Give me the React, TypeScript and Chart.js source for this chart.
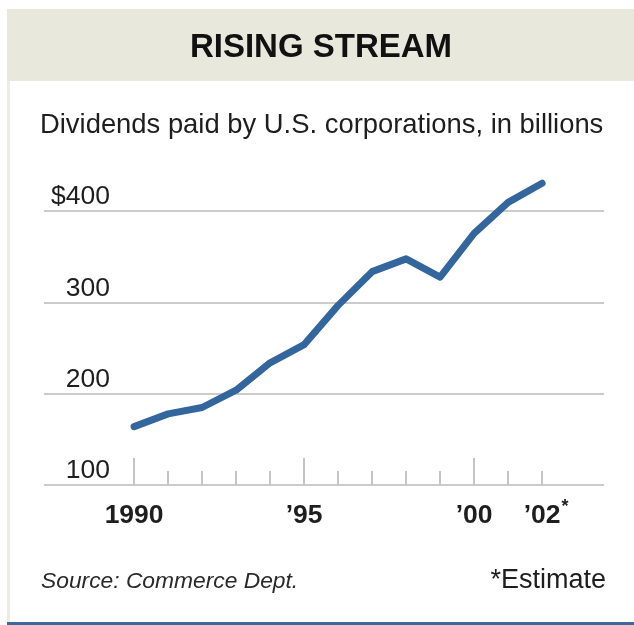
import React, { useEffect, useRef } from "react";
import { Chart, registerables } from "chart.js";

Chart.register(...registerables);

const years = [1990, 1991, 1992, 1993, 1994, 1995, 1996, 1997, 1998, 1999, 2000, 2001, 2002];
const dividends = [164, 178, 185, 204, 234, 254, 297, 334, 348, 328, 376, 410, 431];
const yTicks = [100, 200, 300, 400];
const yTickLabels = ["100", "200", "300", "$400"];
const majorYears = [1990, 1995, 2000];
const xLabelYears = [1990, 1995, 2000, 2002];
const xLabels = ["1990", "\u201995", "\u201900", "\u201902"];
const estimateMark = "*";

const TITLE = "RISING STREAM";
const SUBTITLE = "Dividends paid by U.S. corporations, in billions";
const SOURCE = "Source: Commerce Dept.";
const NOTE = "*Estimate";

const FONT = '"Liberation Sans", Arial, Helvetica, sans-serif';
const LINE_BLUE = "#33669c";
const GRID = "#cbcbcb";
const TEXT = "#1e1e1e";

const decorPlugin = {
  id: "decor",
  afterDraw(chart: any) {
    const { ctx, chartArea, scales } = chart;
    const xs = scales.x;
    const ys = scales.y;
    ctx.save();
    // tick marks on the baseline
    ctx.strokeStyle = "#c4c4c4";
    ctx.lineWidth = 2;
    years.forEach((yr) => {
      const px = Math.round(xs.getPixelForValue(yr));
      const len = majorYears.includes(yr) ? 27 : 14;
      ctx.beginPath();
      ctx.moveTo(px, chartArea.bottom);
      ctx.lineTo(px, chartArea.bottom - len);
      ctx.stroke();
    });
    // y labels above gridlines
    ctx.fillStyle = TEXT;
    ctx.font = `26.5px ${FONT}`;
    ctx.textAlign = "right";
    ctx.textBaseline = "alphabetic";
    yTicks.forEach((v, i) => {
      ctx.fillText(yTickLabels[i], chartArea.left + 66, ys.getPixelForValue(v) - 7);
    });
    // x labels
    ctx.font = `bold 26.5px ${FONT}`;
    ctx.textAlign = "center";
    xLabelYears.forEach((yr, i) => {
      ctx.fillText(xLabels[i], xs.getPixelForValue(yr), chartArea.bottom + 38);
    });
    // estimate asterisk on the last label
    const lastIdx = xLabels.length - 1;
    const lastW = ctx.measureText(xLabels[lastIdx]).width;
    const lastX = xs.getPixelForValue(xLabelYears[lastIdx]);
    ctx.font = `bold 18px ${FONT}`;
    ctx.textAlign = "left";
    ctx.fillText(estimateMark, lastX + lastW / 2 + 1, chartArea.bottom + 27);
    ctx.restore();
  },
};

export default function App() {
  const canvasRef = useRef<HTMLCanvasElement | null>(null);

  useEffect(() => {
    if (!canvasRef.current) return;
    const chart = new Chart(canvasRef.current, {
      type: "line",
      data: {
        datasets: [
          {
            data: years.map((yr, i) => ({ x: yr, y: dividends[i] })),
            borderColor: LINE_BLUE,
            borderWidth: 7,
            pointRadius: 0,
            pointHoverRadius: 0,
            tension: 0,
            borderCapStyle: "round",
            borderJoinStyle: "round",
            fill: false,
            clip: false as any,
          },
        ],
      },
      options: {
        animation: false,
        responsive: false,
        maintainAspectRatio: false,
        events: [],
        layout: { padding: { left: 44, right: 30, top: 175, bottom: 140 } },
        plugins: {
          legend: { display: false },
          tooltip: { enabled: false },
          title: { display: false },
        },
        scales: {
          x: {
            type: "linear",
            min: 1987.35,
            max: 2003.82,
            display: false,
          },
          y: {
            type: "linear",
            min: 100,
            max: 440,
            display: true,
            position: "left",
            afterBuildTicks: (axis: any) => {
              axis.ticks = yTicks.map((v) => ({ value: v }));
            },
            ticks: { display: false },
            grid: {
              color: GRID,
              lineWidth: 2,
              drawTicks: false,
            },
            border: { display: false },
          },
        },
      } as any,
      plugins: [decorPlugin],
    });
    return () => chart.destroy();
  }, []);

  const abs: React.CSSProperties = { position: "absolute", margin: 0, whiteSpace: "nowrap" };

  return (
    <div
      style={{
        position: "absolute",
        left: 0,
        top: 0,
        width: 634,
        height: 625,
        background: "#ffffff",
        overflow: "hidden",
        fontFamily: FONT,
        color: TEXT,
      }}
    >
      <div style={{ ...abs, left: 7, top: 9, width: 627, height: 72, background: "#e8e8dc" }} />
      <div style={{ ...abs, left: 7, top: 81, width: 3, height: 541, background: "#ecece2" }} />
      <div style={{ ...abs, left: 7, top: 622, width: 627, height: 3, background: "#3a6a9e" }} />
      <canvas
        ref={canvasRef}
        width={634}
        height={625}
        style={{ position: "absolute", left: 0, top: 0, width: 634, height: 625 }}
      />
      <div
        style={{
          ...abs,
          left: 0,
          width: 642,
          top: 25.5,
          height: 40,
          lineHeight: "40px",
          fontSize: 33,
          fontWeight: "bold",
          textAlign: "center",
          color: "#111",
        }}
      >
        {TITLE}
      </div>
      <div style={{ ...abs, left: 40, top: 107.5, lineHeight: "32px", fontSize: 27.4 }}>{SUBTITLE}</div>
      <div style={{ ...abs, left: 41, top: 566, lineHeight: "28px", fontSize: 22.8, fontStyle: "italic", color: "#2a2a2a" }}>
        {SOURCE}
      </div>
      <div
        style={{
          ...abs,
          right: 634 - 606,
          top: 563,
          lineHeight: "32px",
          fontSize: 27,
          textAlign: "right",
        }}
      >
        {NOTE}
      </div>
    </div>
  );
}
